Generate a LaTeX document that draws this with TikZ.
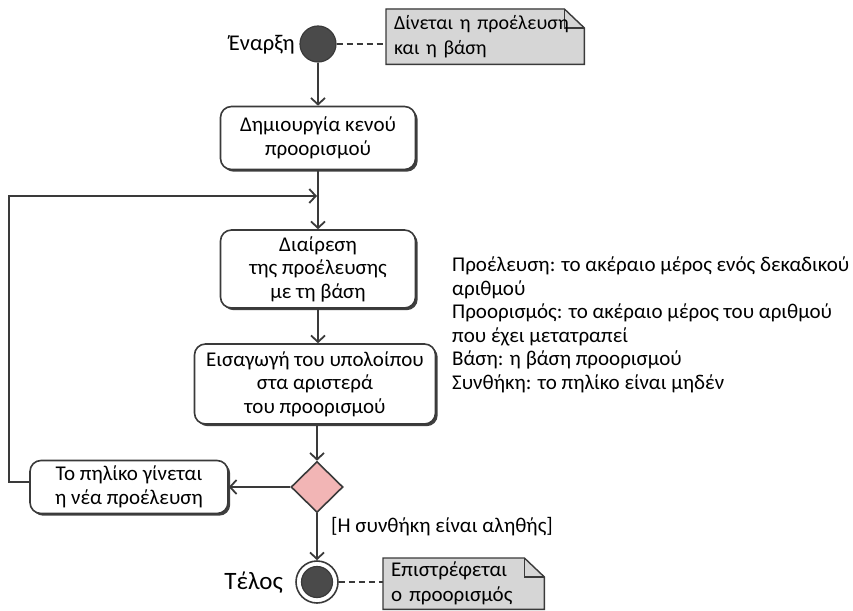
\documentclass[tikz,border=0pt]{standalone}
\usepackage{fontspec}
\setmainfont{Carlito}
\usetikzlibrary{shapes.geometric,arrows.meta,shadows,backgrounds}
\definecolor{ln}{HTML}{3A3A3A}
\definecolor{dotfill}{HTML}{4A4A4A}
\definecolor{notefill}{HTML}{D6D6D6}
\definecolor{decpink}{HTML}{F2B5B5}
\newcommand\drawnote[1]{%
  \fill[black!70, shift={(1.8pt,-1.8pt)}] (#1.south west) -- (#1.north west) -- ([xshift=-20pt]#1.north east) -- ([yshift=-19pt]#1.north east) -- (#1.south east) -- cycle;
  \filldraw[fill=notefill, draw=ln, line width=1.4pt, line join=miter] (#1.south west) -- (#1.north west) -- ([xshift=-20pt]#1.north east) -- ([yshift=-19pt]#1.north east) -- (#1.south east) -- cycle;
  \draw[ln, line width=1.2pt] ([xshift=-20pt]#1.north east) |- ([yshift=-19pt]#1.north east);}
\begin{document}
\begin{tikzpicture}[x=1pt,y=-1pt,
  font=\fontsize{21}{23.5}\selectfont,
  act/.style={draw=ln, line width=1.6pt, rounded corners=11pt, fill=white, align=center, inner sep=2pt,
    drop shadow={shadow xshift=2.2pt,shadow yshift=-2.2pt,fill=black!75,opacity=1}},
  flow/.style={draw=ln, line width=1.8pt, -{Straight Barb[length=6.5pt,width=14pt]}},
  noteline/.style={draw=ln, line width=1.6pt, dash pattern=on 6pt off 4pt},
  notetext/.style={anchor=north west, align=left, inner xsep=8pt, inner ysep=2pt, font=\fontsize{20}{25}\selectfont},
  lbl/.style={inner sep=0pt},
  startlbl/.style={inner sep=0pt, font=\fontsize{22.5}{26}\selectfont},
  endlbl/.style={inner sep=0pt, font=\fontsize{25}{28}\selectfont},
  dotnode/.style={circle, fill=dotfill, draw=ln, line width=1.2pt, inner sep=0pt}]
\useasboundingbox (0,0) rectangle (853,610);

% start
\node[dotnode, minimum size=36pt] (s) at (318,44) {};
\node[startlbl, anchor=east] (slab) at (295,45) {Έναρξη};
\node[notetext, minimum width=198pt, minimum height=55pt, text width=182pt] (n1) at (386,9) {\mbox{Δίνεται η προέλευση}\\και η βάση};

% actions
\node[act, minimum width=195pt, minimum height=63pt] (b1) at (318,138) {Δημιουργία κενού\\προορισμού};
\node[act, minimum width=195pt, minimum height=78pt] (b2) at (318,269) {Διαίρεση\\της προέλευσης\\με τη βάση};
\node[act, minimum width=241pt, minimum height=80pt] (b3) at (315,384) {Εισαγωγή του υπολοίπου\\στα αριστερά\\του προορισμού};
\node[diamond, draw=ln, fill=decpink, line width=1.6pt, minimum width=52pt, minimum height=51pt, inner sep=0pt] (dec) at (317,487) {};
\node[act, minimum width=198pt, minimum height=53pt] (b4) at (129,487) {Το πηλίκο γίνεται\\η νέα προέλευση};

% end
\node[circle, draw=ln, fill=white, line width=1.6pt, minimum size=42pt, inner sep=0pt] (e) at (317,582) {};
\node[dotnode, minimum size=31pt] (ei) at (e) {};
\node[endlbl, anchor=east] (elab) at (283,583) {Τέλος};
\node[notetext, minimum width=161pt, minimum height=51pt, text width=145pt, font=\fontsize{21}{25}\selectfont] (n2) at (383,558) {Επιστρέφεται\\ο προορισμός};

\node[lbl, anchor=west] (cond) at (331,527) {[Η συνθήκη είναι αληθής]};

% description
\node[lbl, anchor=north west, align=left] (desc) at (452,257) {Προέλευση: το ακέραιο μέρος ενός δεκαδικού\\αριθμού\\Προορισμός: το ακέραιο μέρος του αριθμού\\που έχει μετατραπεί\\Βάση: η βάση προορισμού\\Συνθήκη: το πηλίκο είναι μηδέν};

\begin{scope}[on background layer]
\drawnote{n1}
\drawnote{n2}
\end{scope}

% connectors
\coordinate (merge) at (318,196);
\coordinate (lp) at (9,196);
\draw[flow] (s) -- (b1);
\draw[flow] (b1) -- (b2);
\draw[flow] (b2.south) -- (b2.south |- b3.north);
\draw[flow] (dec.north |- b3.south) -- (dec.north);
\draw[flow] (dec.west) -- (b4.east);
\draw[flow] (dec.south) -- (e.north);
\draw[flow] ([yshift=5pt]b4.west) -| (lp) -- ([xshift=-1pt]merge);
\draw[noteline] (s.east) -- (s.east -| n1.west);
\draw[noteline] (e.east) -- (e.east -| n2.west);
\end{tikzpicture}
\end{document}
